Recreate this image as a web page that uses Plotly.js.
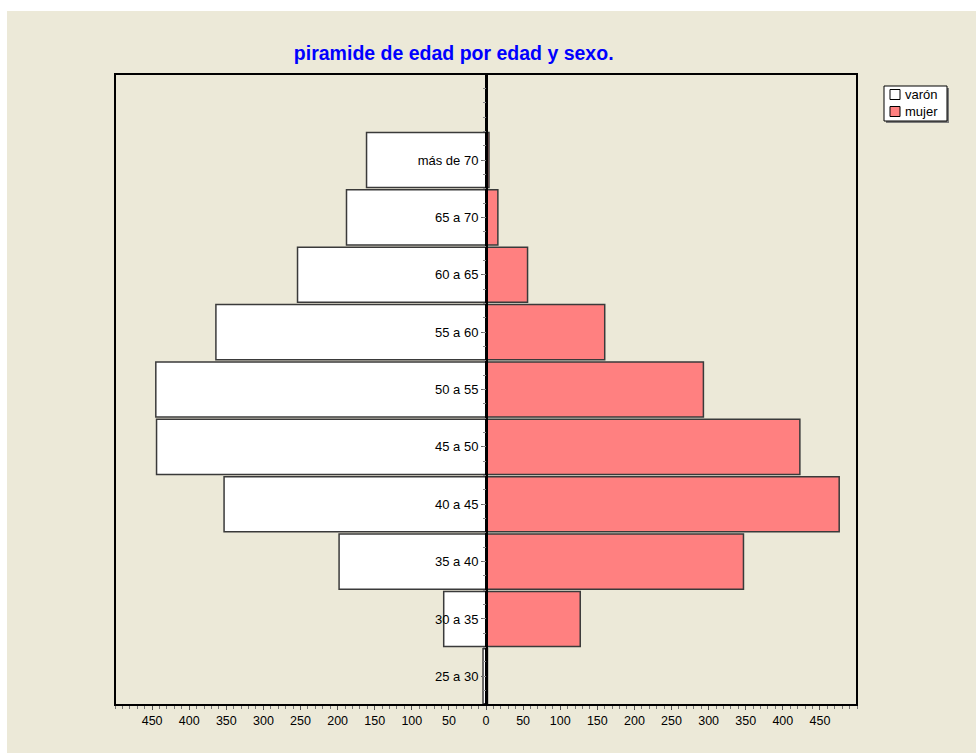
<!DOCTYPE html>
<html>
<head>
<meta charset="utf-8">
<script src="https://cdn.plot.ly/plotly-3.0.1.min.js"></script>
<style>
  html, body { margin: 0; padding: 0; background: #ffffff; width: 976px; height: 753px; overflow: hidden; }
  #chart { position: absolute; left: 7px; top: 11px; width: 969px; height: 742px; }
</style>
</head>
<body>
<div id="chart"></div>
<script>
// Age groups, bottom to top
const categories = ["25 a 30", "30 a 35", "35 a 40", "40 a 45", "45 a 50", "50 a 55", "55 a 60", "60 a 65", "65 a 70", "más de 70"];
const varon = [4, 57, 198, 353, 444, 445, 364, 254, 188, 161];
const mujer = [2, 127, 347, 476, 423, 293, 160, 56, 16, 4];
const tickValues = [-450, -400, -350, -300, -250, -200, -150, -100, -50, 0, 50, 100, 150, 200, 250, 300, 350, 400, 450];
const tickLabels = ["450", "400", "350", "300", "250", "200", "150", "100", "50", "0", "50", "100", "150", "200", "250", "300", "350", "400", "450"];
const seriesNames = ["varón", "mujer"];
const seriesColors = ["#FFFFFF", "#FF8080"];

const FONT = "'Liberation Sans', Arial, sans-serif";
const BEIGE = "#ECE9D8";

// plot area geometry (page pixels) used only to place the hand-drawn legend box
const PLOT_L = 115, PLOT_W = 742, PLOT_B = 705, PLOT_H = 631;
const px = x => (x - PLOT_L) / PLOT_W;
const py = y => (PLOT_B - y) / PLOT_H;

const traces = [
  {
    type: "bar", orientation: "h", name: seriesNames[0],
    y: categories, x: varon.map(v => -v),
    customdata: varon,
    hovertemplate: "%{y}: %{customdata}<extra>varón</extra>",
    width: 0.96, showlegend: false,
    marker: { color: seriesColors[0], line: { color: "#3a3a3a", width: 1.5 } }
  },
  {
    type: "bar", orientation: "h", name: seriesNames[1],
    y: categories, x: mujer,
    hovertemplate: "%{y}: %{x}<extra>mujer</extra>",
    width: 0.96, showlegend: false,
    marker: { color: seriesColors[1], line: { color: "#3a3a3a", width: 1.5 } }
  },
  // carrier for the small quarter-step ticks on the central axis
  { type: "scatter", x: [], y: [], yaxis: "y2", showlegend: false, hoverinfo: "skip" }
];

// legend drawn as shapes + annotations
const legendShapes = [
  { type: "rect", xref: "paper", yref: "paper", x0: px(886), x1: px(949), y0: py(88), y1: py(123),
    fillcolor: "#7a7a7a", line: { width: 0 }, layer: "above" },
  { type: "rect", xref: "paper", yref: "paper", x0: px(884), x1: px(947), y0: py(86), y1: py(121),
    fillcolor: "#FFFFFF", line: { color: "#000000", width: 1 }, layer: "above" }
];
const legendAnn = [];
seriesNames.forEach((name, i) => {
  const cy = 94.5 + i * 17;
  legendShapes.push({ type: "rect", xref: "paper", yref: "paper",
    x0: px(890), x1: px(900), y0: py(cy - 5), y1: py(cy + 5),
    fillcolor: seriesColors[i], line: { color: "#000000", width: 1 }, layer: "above" });
  legendAnn.push({ xref: "paper", yref: "paper", x: px(903), y: py(cy), xanchor: "left", yanchor: "middle",
    text: name, showarrow: false, font: { family: FONT, size: 13, color: "#000000" } });
});

const layout = {
  width: 969, height: 742,
  paper_bgcolor: BEIGE, plot_bgcolor: BEIGE,
  margin: { l: 108, r: 119, t: 63, b: 48, pad: 0 },
  barmode: "overlay",
  showlegend: false,
  font: { family: FONT, size: 12, color: "#000000" },
  title: {
    text: "piramide de edad por edad y sexo.",
    font: { family: FONT, size: 19.5, color: "#0000FF", weight: "bold" },
    x: 0.461, xref: "container", xanchor: "center",
    y: 0.943, yref: "container", yanchor: "middle"
  },
  xaxis: {
    range: [-500, 500], fixedrange: true,
    tickmode: "array", tickvals: tickValues, ticktext: tickLabels,
    ticks: "outside", ticklen: 4, tickcolor: "#555555", tickwidth: 1,
    minor: { dtick: 10, tick0: 0, ticks: "outside", ticklen: 3, tickcolor: "#777777" },
    showgrid: false, zeroline: false, showline: false,
    tickfont: { family: FONT, size: 12.5, color: "#000000" }
  },
  yaxis: {
    type: "category", categoryorder: "array", categoryarray: categories,
    range: [-0.5, 10.5], fixedrange: true,
    anchor: "free", position: 0.5, side: "left",
    showline: true, linecolor: "#000000", linewidth: 2.5,
    ticks: "outside", ticklen: 4, tickcolor: "#666666",
    showgrid: false, zeroline: false,
    tickfont: { family: FONT, size: 13, color: "#000000" },
    layer: "above traces"
  },
  yaxis2: {
    overlaying: "y", anchor: "free", position: 0.5, side: "left",
    range: [-0.5, 10.5], fixedrange: true,
    tickmode: "linear", tick0: 0, dtick: 0.25,
    ticks: "outside", ticklen: 3, tickcolor: "#888888",
    showticklabels: false, showgrid: false, zeroline: false, showline: false
  },
  shapes: [
    { type: "rect", xref: "paper", yref: "paper", x0: 0, x1: 1, y0: 0, y1: 1,
      line: { color: "#000000", width: 2 }, fillcolor: "rgba(0,0,0,0)", layer: "above" }
  ].concat(legendShapes),
  annotations: legendAnn
};

Plotly.newPlot("chart", traces, layout, { displayModeBar: false, staticPlot: true });
</script>
</body>
</html>
